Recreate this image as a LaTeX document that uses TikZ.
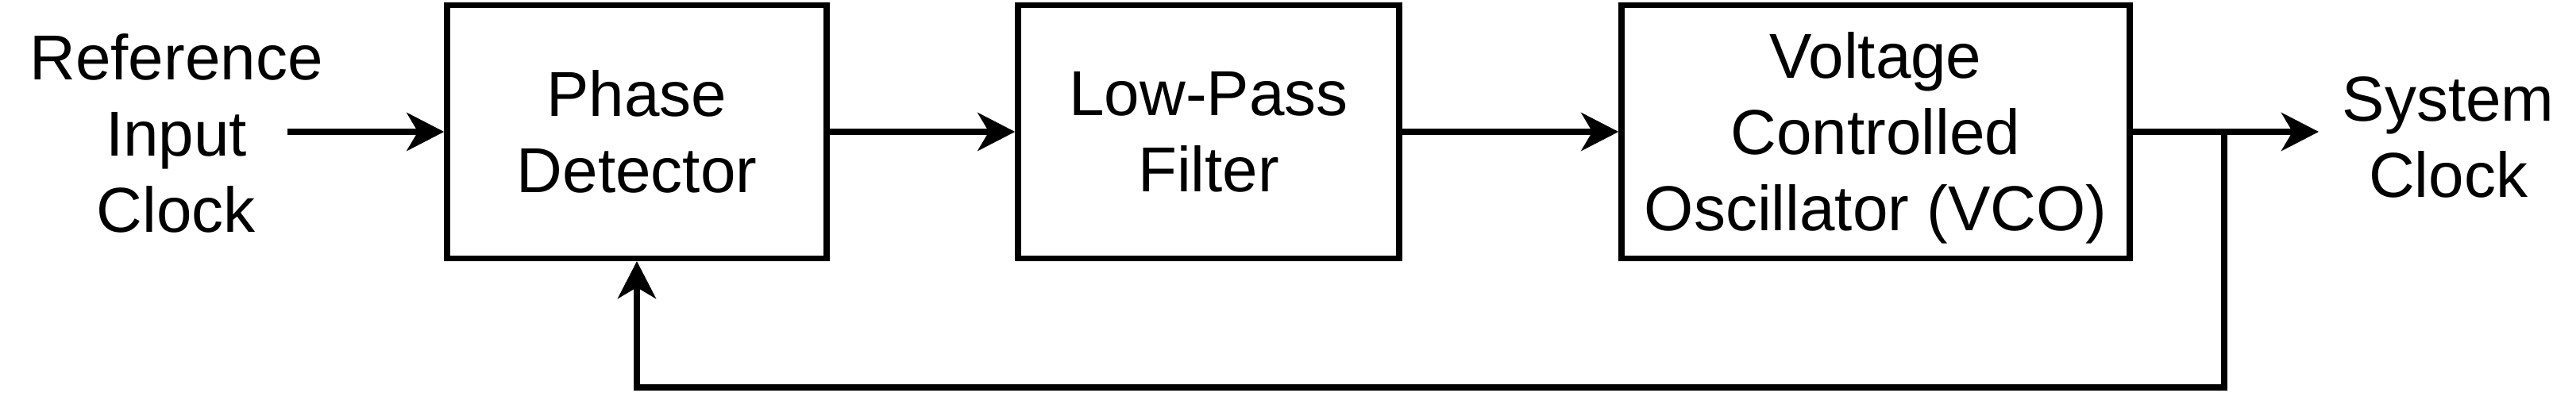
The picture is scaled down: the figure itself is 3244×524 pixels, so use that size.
\documentclass[tikz,border=0pt]{standalone}
\usepackage{fontspec}
\setmainfont{Liberation Sans}
\usetikzlibrary{arrows.meta}
\begin{document}
\begin{tikzpicture}[x=0.25pt,y=-0.25pt,
  every node/.style={font=\fontsize{20}{24}\selectfont, align=center, inner sep=0pt},
  block/.style={draw, line width=1.875pt, minimum height=318.5*0.25pt},
  wire/.style={line width=1.875pt},
  arr/.style={wire, -{Stealth[length=11.75pt, width=12pt, inset=3.5pt]}}]
\useasboundingbox (0,0) rectangle (3244,524);
\node[block, minimum width=478*0.25pt] (pd) at (802,166) {Phase\\Detector};
\node[block, minimum width=480*0.25pt] (lpf) at (1522,166) {Low-Pass\\Filter};
\node[block, minimum width=640*0.25pt] (vco) at (2362,166) {Voltage\\Controlled\\Oscillator \smash{(VCO)}};
\node (ref) at (222,168) {Reference\\Input\\Clock};
\node (sys) at (3083,173) {System\\Clock};
\coordinate (in) at (362,166);
\coordinate (outend) at (2920,166);
\coordinate (j) at (2801,166);
\draw[arr] (in) -- (pd.west);
\draw[arr] (pd.east) -- (lpf.west);
\draw[arr] (lpf.east) -- (vco.west);
\draw[arr] (vco.east) -- (outend);
\draw[arr] (j) -- ++(0,322) -| (pd.south);
\end{tikzpicture}
\end{document}
